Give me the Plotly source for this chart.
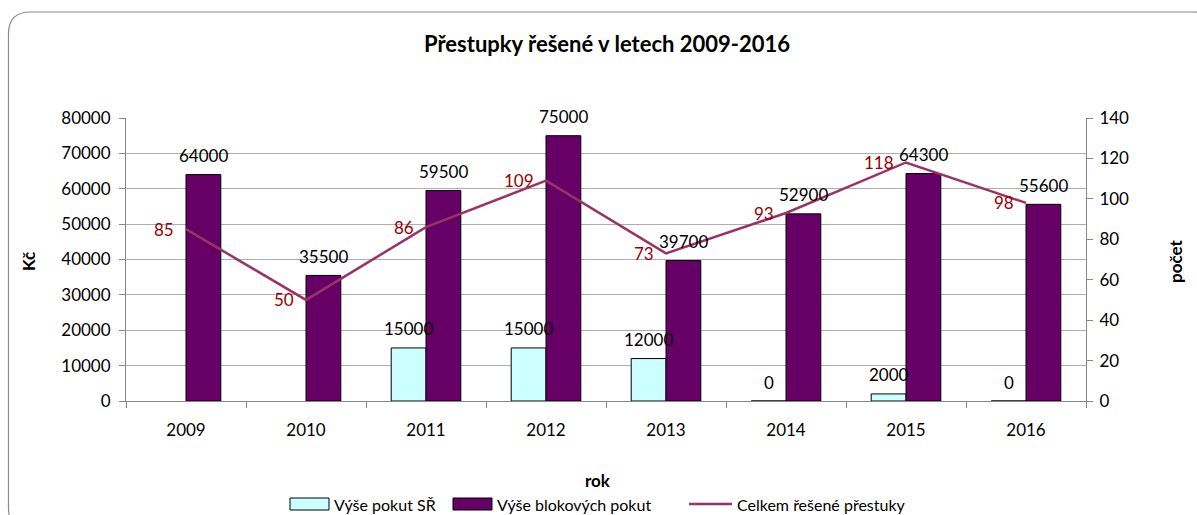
import plotly.graph_objects as go

years = ["2009", "2010", "2011", "2012", "2013", "2014", "2015", "2016"]
pokuty_sr = [None, None, 15000, 15000, 12000, 0, 2000, 0]
blokove = [64000, 35500, 59500, 75000, 39700, 52900, 64300, 55600]
celkem = [85, 50, 86, 109, 73, 93, 118, 98]
series_names = ["Výše pokut SŘ", "Výše blokových pokut", "Celkem řešené přestuky"]

FONT = "Lato"
C_SR, C_BLOK, C_LINE, C_LBL = "#CCFFFF", "#660066", "#993366", "#990000"
W, H = 1197, 515
L, R, T, B = 126, 1086, 118, 401
pw, ph = R - L, B - T
BARGAP = 0.42
half = (1 - BARGAP) / 4  # offset of each bar's centre from the category centre

def px(x):
    return (x - L) / pw

def py(y):
    return (B - y) / ph

fig = go.Figure()
fig.add_trace(go.Bar(
    x=years, y=pokuty_sr, name=series_names[0],
    marker=dict(color=C_SR, line=dict(color="#000000", width=1)),
    cliponaxis=False, yaxis="y",
))
fig.add_trace(go.Bar(
    x=years, y=blokove, name=series_names[1],
    marker=dict(color=C_BLOK, line=dict(color="#000000", width=1)),
    cliponaxis=False, yaxis="y",
))
fig.add_trace(go.Scatter(
    x=years, y=celkem, name=series_names[2],
    mode="lines", line=dict(color=C_LINE, width=2.5),
    cliponaxis=False, yaxis="y2",
))

fig.update_layout(
    width=W, height=H,
    margin=dict(l=L, r=W - R, t=T, b=H - B, autoexpand=False),
    paper_bgcolor="white", plot_bgcolor="white",
    font=dict(family=FONT, size=17, color="#000000"),
    barmode="group", bargap=BARGAP, bargroupgap=0,
    showlegend=False,
    xaxis=dict(type="category", categoryorder="array", categoryarray=years,
               range=[-0.5, len(years) - 0.5], autorange=False,
               showline=True, linecolor="#878787", linewidth=1,
               ticks="outside", tickson="boundaries", ticklen=6, tickcolor="#878787",
               ticklabelstandoff=14,
               tickfont=dict(family=FONT, size=17), showgrid=False),
    yaxis=dict(range=[0, 80000], dtick=10000, showline=True, linecolor="#878787",
               ticks="outside", ticklen=6, tickcolor="#878787", ticklabelstandoff=5,
               gridcolor="#ADADAD", gridwidth=1, tickfont=dict(family=FONT, size=17),
               zeroline=False, tickformat="d"),
    yaxis2=dict(range=[0, 140], dtick=20, overlaying="y", side="right", showline=True,
                linecolor="#878787", ticks="outside", ticklen=6, tickcolor="#878787",
                ticklabelstandoff=3,
                showgrid=False, zeroline=False, tickfont=dict(family=FONT, size=17)),
)

annotations = []
for a in [
    dict(text="<b>Přestupky řešené v letech 2009-2016</b>", x=px(607), y=py(44),
         font=dict(family=FONT, size=22)),
    dict(text="<b>rok</b>", x=px(598), y=py(480), font=dict(family=FONT, size=17)),
    dict(text="<b>Kč</b>", x=px(28), y=py(262), textangle=-90, font=dict(family=FONT, size=17)),
    dict(text="<b>počet</b>", x=px(1175), y=py(262), textangle=-90, font=dict(family=FONT, size=17)),
]:
    a.update(xref="paper", yref="paper", showarrow=False, xanchor="center", yanchor="middle")
    annotations.append(a)

# bar value labels above each bar
for i, (a_val, b_val) in enumerate(zip(pokuty_sr, blokove)):
    for off, v in ((-half, a_val), (half, b_val)):
        if v is None:
            continue
        annotations.append(dict(x=i + off, y=v, xref="x", yref="y", text=str(v), showarrow=False,
                                xanchor="center", yanchor="middle", yshift=19,
                                font=dict(family=FONT, size=17, color="#000000")))

# line data labels, placed to the left of each point
for i, v in enumerate(celkem):
    annotations.append(dict(x=i, y=v, xref="x", yref="y2", text=str(v), showarrow=False,
                            xanchor="right", yanchor="middle", xshift=-10,
                            font=dict(family=FONT, size=17, color=C_LBL)))

# manual legend (rectangular swatches like the reference)
shapes = []
leg_y = 504
sw_w, sw_h = 39, 12
items = [(290, "box", C_SR, series_names[0]),
         (453, "box", C_BLOK, series_names[1]),
         (689, "line", C_LINE, series_names[2])]
for x0, kind, col, name in items:
    if kind == "box":
        shapes.append(dict(type="rect", xref="paper", yref="paper",
                           x0=px(x0), x1=px(x0 + sw_w), y0=py(leg_y + sw_h / 2), y1=py(leg_y - sw_h / 2),
                           fillcolor=col, line=dict(color="#000000", width=1)))
        tx = x0 + sw_w + 3
    else:
        shapes.append(dict(type="line", xref="paper", yref="paper",
                           x0=px(x0), x1=px(x0 + 43), y0=py(leg_y), y1=py(leg_y),
                           line=dict(color=col, width=2.5)))
        tx = x0 + 46
    annotations.append(dict(text=name, x=px(tx), y=py(leg_y), xref="paper", yref="paper",
                            showarrow=False, xanchor="left", yanchor="middle",
                            font=dict(family=FONT, size=16)))

# rounded chart border (partially off-canvas like the reference)
x0, y0, x1, y1, r = 8.5, 12, 1215, 530, 22
path = (f"M {px(x0)},{py(y0 + r)} Q {px(x0)},{py(y0)} {px(x0 + r)},{py(y0)} "
        f"L {px(x1 - r)},{py(y0)} Q {px(x1)},{py(y0)} {px(x1)},{py(y0 + r)} "
        f"L {px(x1)},{py(y1 - r)} Q {px(x1)},{py(y1)} {px(x1 - r)},{py(y1)} "
        f"L {px(x0 + r)},{py(y1)} Q {px(x0)},{py(y1)} {px(x0)},{py(y1 - r)} Z")
shapes.append(dict(type="path", path=path, xref="paper", yref="paper",
                   line=dict(color="#8C8C8C", width=1.2), layer="below"))

fig.update_layout(annotations=annotations, shapes=shapes)

fig.write_html("out.html", config={"displayModeBar": False},
               post_script="document.body.style.margin='0';document.body.style.overflow='hidden';")
